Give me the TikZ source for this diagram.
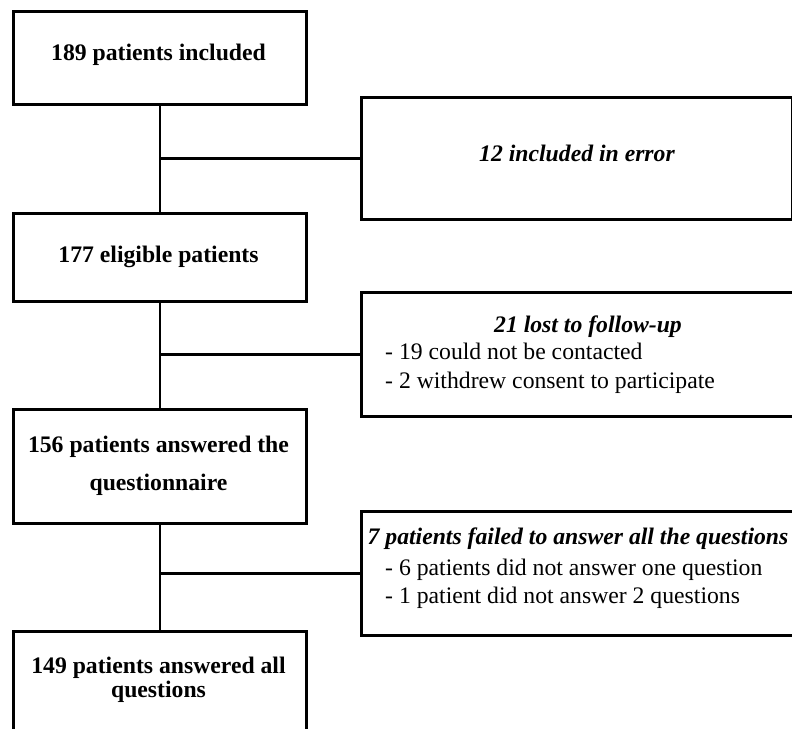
\documentclass[tikz,border=0pt]{standalone}
\usepackage{fontspec}
\setmainfont{Liberation Serif}
\usetikzlibrary{positioning}

\begin{document}
\begin{tikzpicture}[x=1pt,y=-1pt,
   box/.style={draw, line width=2.6pt, rectangle, inner sep=0pt, anchor=north west},
   stage/.style={box, minimum width=293pt},
   side/.style={box, minimum height=124pt},
   head/.style={font=\fontsize{23.7}{29}\selectfont\bfseries, inner sep=0pt, anchor=base},
   note/.style={head, font=\fontsize{23.7}{29}\selectfont\bfseries\itshape},
   item/.style={font=\fontsize{23.7}{29}\selectfont, inner sep=0pt, anchor=base west},
   link/.style={line width=2.6pt}]

   \useasboundingbox (0,0) rectangle (792,728);
   \clip (0,0) rectangle (792,728);

   \node[stage, minimum height=93pt] (incl) at (12,10) {};
   \node[stage, minimum height=88pt] (elig) at (12,212) {};
   \node[stage, minimum height=114pt] (answ) at (12,408) {};
   \node[stage, minimum height=130pt] (full) at (12,630) {};

   \node[side, minimum width=431pt, minimum height=122pt] (err) at (360,96) {};
   \node[side, minimum width=460pt] (lost) at (360,291) {};
   \node[side, minimum width=460pt] (fail) at (360,510) {};

   \node[head] (incl-t) at (158.5,60) {189 patients included};
   \node[head] (elig-t) at (158.5,262) {177 eligible patients};
   \node[head] (answ-t1) at (158.5,452) {156 patients answered the};
   \node[head] (answ-t2) at (158.5,490) {questionnaire};
   \node[head] (full-t1) at (158.5,673) {149 patients answered all};
   \node[head] (full-t2) at (158.5,697) {questions};

   \node[note] (err-t) at (577,161) {12 included in error};
   \node[note] (lost-t) at (588,332) {21 lost to follow-up};
   \node[item] (lost-a) at (385,359) {- 19 could not be contacted};
   \node[item] (lost-b) at (385,388) {- 2 withdrew consent to participate};
   \node[note] (fail-t) at (578,544) {7 patients failed to answer all the questions};
   \node[item] (fail-a) at (385,575) {- 6 patients did not answer one question};
   \node[item] (fail-b) at (385,603) {- 1 patient did not answer 2 questions};

   \draw[link] (incl.south) -- (elig.north)
      (elig.south) -- (answ.north)
      (answ.south) -- (full.north);
   \draw[link] (incl.south |- err.west) -- (err.west)
      (elig.south |- lost.west) -- (lost.west)
      (answ.south |- fail.west) -- (fail.west);

\end{tikzpicture}
\end{document}
